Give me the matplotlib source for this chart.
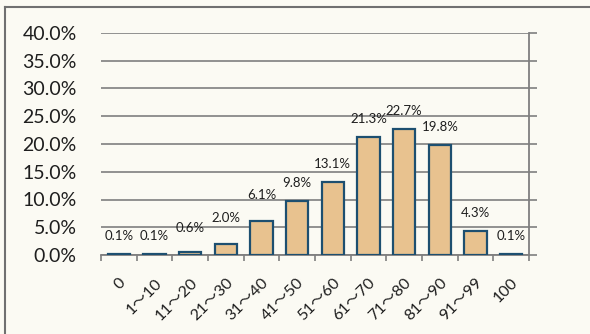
import matplotlib
matplotlib.use("Agg")
import matplotlib.pyplot as plt
from matplotlib.lines import Line2D
from matplotlib.ticker import FixedLocator, PercentFormatter

plt.rcParams['font.family'] = ['Lato', 'Noto Sans CJK JP', 'DejaVu Sans']

# score bands and share of students in each band (%)
bands = ["0", "1～10", "11～20", "21～30", "31～40", "41～50",
         "51～60", "61～70", "71～80", "81～90", "91～99", "100"]
shares = [0.1, 0.1, 0.6, 2.0, 6.1, 9.8, 13.1, 21.3, 22.7, 19.8, 4.3, 0.1]

bg = "#FBFAF3"
grid_col = "#7F7F7F"
text_col = "#1E1E1E"

fig = plt.figure(figsize=(5.9, 3.34), dpi=100, facecolor=bg)
ax = fig.add_axes([101 / 590, 79 / 334, 428 / 590, 222 / 334])
ax.set_facecolor(bg)

x = list(range(len(bands)))
ax.bar(x, shares, width=0.63, color="#E8C28F", edgecolor="#1D4F70",
       linewidth=1.6, zorder=3)

# value labels above bars
nudge = {3: 6, 4: 6, 2: 4}
for i, v in enumerate(shares):
    ax.annotate(f"{v:.1f}%", (i, v), xytext=(0, 13 + nudge.get(i, 0)),
                textcoords="offset points", ha="center", va="center",
                fontsize=9.5, color=text_col, zorder=4)

ax.set_xlim(-0.5, len(bands) - 0.5)
ax.set_ylim(0, 40)
ax.yaxis.set_major_locator(FixedLocator([0, 5, 10, 15, 20, 25, 30, 35, 40]))
ax.yaxis.set_major_formatter(PercentFormatter(decimals=1))
ax.grid(axis="y", color=grid_col, linewidth=1.2, zorder=0)
ax.set_axisbelow(True)

for side in ("left", "top"):
    ax.spines[side].set_visible(False)
for side in ("right", "bottom"):
    ax.spines[side].set_color(grid_col)
    ax.spines[side].set_linewidth(1.3)

ax.tick_params(axis="y", left=False, right=True, labelleft=True,
               labelright=False, direction="out", length=5.5, width=1.2,
               color=grid_col, pad=12, labelsize=14, labelcolor=text_col)

ax.set_xticks(x)
ax.set_xticklabels(bands, rotation=45, ha="right", rotation_mode="anchor",
                   fontsize=11.5, color=text_col)
ax.tick_params(axis="x", which="major", length=0, pad=15)
ax.xaxis.set_minor_locator(FixedLocator([i - 0.5 for i in range(len(bands) + 1)]))
ax.tick_params(axis="x", which="minor", direction="out", length=4.5,
               width=1.2, color=grid_col)

# chart frame
fig.add_artist(Line2D([4.5 / 590, 4.5 / 590], [0, 1 - 7 / 334],
                      transform=fig.transFigure, color="#707070", lw=1.5))
fig.add_artist(Line2D([4.5 / 590, 1], [1 - 7 / 334, 1 - 7 / 334],
                      transform=fig.transFigure, color="#707070", lw=1.5))

fig.savefig("out.png", dpi=100, facecolor=bg)
